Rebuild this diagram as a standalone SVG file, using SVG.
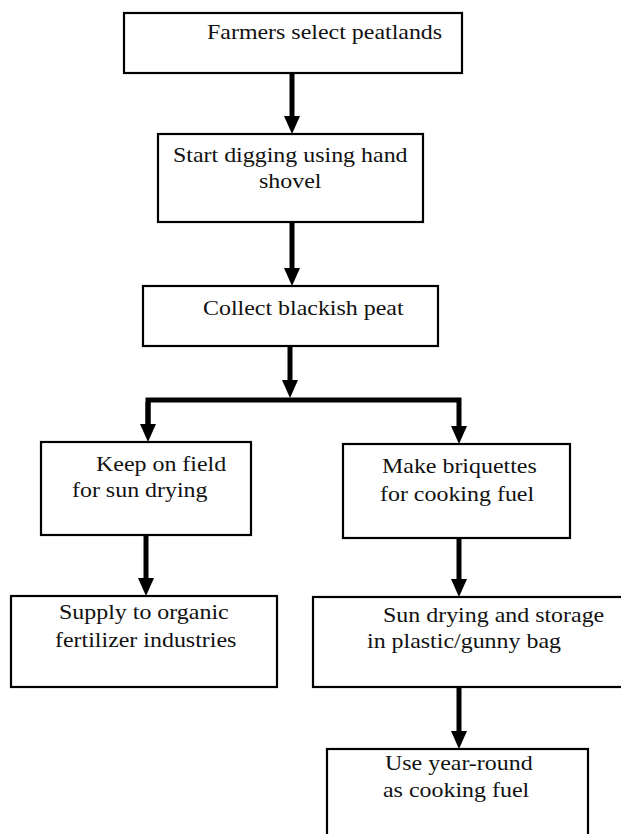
<svg xmlns="http://www.w3.org/2000/svg" width="621" height="834" viewBox="0 0 621 834">
<style>
.box{fill:#fff;stroke:#000;stroke-width:2.2}
.t{font-family:'Liberation Serif','Times New Roman',serif;font-size:21px;fill:#111}
.c{fill:none;stroke:#000;stroke-width:5}
</style>
<defs>
<marker id="ah" viewBox="0 0 18 16" refX="0" refY="8" markerWidth="18" markerHeight="16" markerUnits="userSpaceOnUse" orient="auto">
<path d="M0,0 L18,8 L0,16 z" fill="#000"/>
</marker>
</defs>
<rect width="621" height="834" fill="#fff"/>
<g id="connectors">
<line class="c" x1="292" y1="73" x2="292" y2="116" marker-end="url(#ah)"/>
<line class="c" x1="292" y1="222" x2="292" y2="268" marker-end="url(#ah)"/>
<line class="c" x1="290" y1="346" x2="290" y2="380" marker-end="url(#ah)"/>
<polyline class="c" points="148,424 148,400 459,400 459,426" marker-end="url(#ah)"/>
<line class="c" x1="148" y1="402" x2="148" y2="424" marker-end="url(#ah)"/>
<line class="c" x1="146" y1="535" x2="146" y2="578" marker-end="url(#ah)"/>
<line class="c" x1="459" y1="538" x2="459" y2="579" marker-end="url(#ah)"/>
<line class="c" x1="459" y1="687" x2="459" y2="731" marker-end="url(#ah)"/>
</g>
<g id="n1">
<rect class="box" x="124" y="13" width="338" height="60"/>
<text class="t" transform="translate(207,39) scale(1.14,1)">Farmers select peatlands</text>
</g>
<g id="n2">
<rect class="box" x="158" y="134" width="265" height="88"/>
<text class="t" transform="translate(173,162) scale(1.14,1)">Start digging using hand</text>
<text class="t" transform="translate(259,188) scale(1.14,1)">shovel</text>
</g>
<g id="n3">
<rect class="box" x="143" y="286" width="295" height="60"/>
<text class="t" transform="translate(203,315) scale(1.14,1)">Collect blackish peat</text>
</g>
<g id="n4">
<rect class="box" x="41" y="442" width="210" height="93"/>
<text class="t" transform="translate(96,471) scale(1.14,1)">Keep on field</text>
<text class="t" transform="translate(72,497) scale(1.14,1)">for sun drying</text>
</g>
<g id="n5">
<rect class="box" x="343" y="444" width="227" height="94"/>
<text class="t" transform="translate(382,473) scale(1.14,1)">Make briquettes</text>
<text class="t" transform="translate(380,501) scale(1.14,1)">for cooking fuel</text>
</g>
<g id="n6">
<rect class="box" x="11" y="596" width="266" height="91"/>
<text class="t" transform="translate(59,619) scale(1.14,1)">Supply to organic</text>
<text class="t" transform="translate(55,647) scale(1.14,1)">fertilizer industries</text>
</g>
<g id="n7">
<rect class="box" x="313" y="597" width="312" height="90"/>
<text class="t" transform="translate(383,622) scale(1.14,1)">Sun drying and storage</text>
<text class="t" transform="translate(367,648) scale(1.14,1)">in plastic/gunny bag</text>
</g>
<g id="n8">
<rect class="box" x="327" y="749" width="261" height="90"/>
<text class="t" transform="translate(385,770) scale(1.14,1)">Use year-round</text>
<text class="t" transform="translate(383,797) scale(1.14,1)">as cooking fuel</text>
</g>
</svg>
